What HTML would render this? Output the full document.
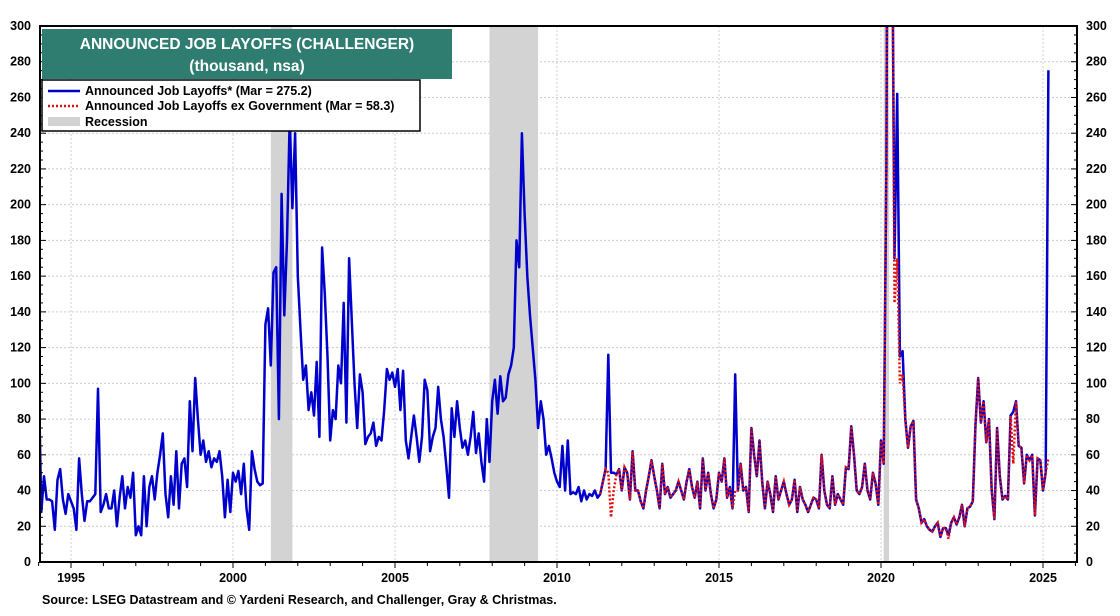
<!DOCTYPE html>
<html><head><meta charset="utf-8">
<style>
body{margin:0;background:#fff;font-family:"Liberation Sans",Arial,sans-serif;}
svg text{font-family:"Liberation Sans",Arial,sans-serif;}
</style></head>
<body>
<svg id="chart" width="1120" height="611" viewBox="0 0 1120 611">
<defs><clipPath id="plotclip"><rect x="40" y="26" width="1037" height="536"/></clipPath></defs>
<g id="grid"></g>
<g id="recessions"></g>
<g id="series" clip-path="url(#plotclip)"></g>
<rect x="40" y="26" width="1037" height="536" fill="none" stroke="#000" stroke-width="2"/>
<g id="axes"></g>
<rect x="42" y="29" width="410" height="50" fill="#2e7d70"/>
<text x="247" y="49" text-anchor="middle" fill="#fff" font-size="15.5" font-weight="bold">ANNOUNCED JOB LAYOFFS (CHALLENGER)</text>
<text x="247" y="71" text-anchor="middle" fill="#fff" font-size="15.5" font-weight="bold">(thousand, nsa)</text>
<g>
<rect x="42" y="80" width="378" height="51" fill="#fff" stroke="#000" stroke-width="1.5"/>
<line x1="48" y1="91" x2="80" y2="91" stroke="#0000cc" stroke-width="2.5"/>
<text x="85" y="95" font-size="12.5" font-weight="bold">Announced Job Layoffs* (Mar = 275.2)</text>
<line x1="48" y1="106" x2="80" y2="106" stroke="#dd1111" stroke-width="2.5" stroke-dasharray="2,2"/>
<text x="85" y="110" font-size="12.5" font-weight="bold">Announced Job Layoffs ex Government (Mar = 58.3)</text>
<rect x="48" y="117" width="32" height="9" fill="#d3d3d3"/>
<text x="85" y="126" font-size="12.5" font-weight="bold">Recession</text>
</g>
<text x="42" y="604" font-size="12.5" font-weight="bold">Source: LSEG Datastream and © Yardeni Research, and Challenger, Gray &amp; Christmas.</text>
</svg>
<script>
const startYear = 1994;
const layoffs = [
108,28,48,35,35,34,18,46,52,35,27,38,
34,30,18,58,38,23,34,34,36,38,97,28,
32,38,30,30,40,20,36,48,30,42,36,50,
15,20,15,48,20,42,48,35,50,60,72,38,
25,48,32,62,30,55,58,42,90,62,103,80,
60,68,56,62,53,58,56,62,48,25,46,28,
50,45,51,38,55,30,18,62,52,45,43,44,
133,142,110,162,165,80,206,138,180,248,198,240,
160,130,102,110,85,95,82,112,70,176,150,115,
68,85,80,110,100,145,78,170,135,100,75,105,
95,66,70,72,78,65,70,68,85,108,102,106,
98,108,85,107,68,58,70,82,70,56,70,102,
96,62,70,75,98,80,70,54,36,86,70,90,
75,64,68,60,70,84,61,72,56,45,80,56,
90,102,83,104,90,92,105,110,120,180,165,240,
195,160,138,120,102,75,90,80,60,65,58,50,
45,42,65,40,68,38,39,38,42,34,40,35,
38,37,40,36,38,45,52,116,50,50,49,52,
40,53,50,35,62,40,40,34,30,40,48,57,
48,40,30,55,38,42,36,38,40,45,40,35,
45,52,42,36,45,30,58,40,50,38,30,35,
50,45,58,36,42,30,105,40,55,40,42,28,
75,60,48,68,45,30,45,38,28,48,35,40,
45,38,32,35,46,28,42,35,32,28,32,36,
35,30,60,40,32,30,48,32,38,35,32,53,
52,76,60,40,38,42,55,40,35,50,44,32,
68,55,222,672,397,170,262,115,118,80,64,76,
79,35,30,22,24,20,18,17,20,22,14,19,
19,15,22,25,21,25,32,20,30,31,34,77,
103,78,90,67,80,40,24,75,48,35,37,35,
82,84,90,65,64,44,60,57,60,26,58,57,
40,50,275.2];
const exGovStart = 2011 + 4/12;
const exGov = [
38,45,52,50,25,40,49,52,
40,53,50,35,62,40,40,34,30,40,48,57,
48,40,30,55,38,42,36,38,40,45,40,35,
45,52,42,36,45,30,58,40,50,38,30,35,
50,45,58,36,42,30,40,40,55,40,42,28,
75,60,48,68,45,30,45,38,28,48,35,40,
45,38,32,35,46,28,42,35,32,28,32,36,
35,30,60,40,32,30,48,32,38,35,32,53,
52,76,60,40,38,42,55,40,35,50,44,32,
68,55,222,670,395,145,170,100,105,80,64,76,
79,35,30,22,24,20,18,17,20,22,14,19,
19,13,22,25,21,25,32,20,30,31,34,77,
103,78,90,67,80,40,24,75,48,35,37,35,
82,55,90,65,64,44,60,57,60,26,58,57,
40,50,58.3];
const recessionStarts = [2001+2/12, 2007+11/12, 2020+1/12];
const recessionEnds = [2001+10/12, 2009+5/12, 2020+3/12];
const yTicks = [0,20,40,60,80,100,120,140,160,180,200,220,240,260,280,300];
const xTickYears = [1995,2000,2005,2010,2015,2020,2025];

const NS = "http://www.w3.org/2000/svg";
const X = t => 38.6 + (t - 1994) * 32.4;
const Y = v => 562 - v * 536 / 300;
function mk(tag, attrs, parent){const e=document.createElementNS(NS,tag);for(const k in attrs)e.setAttribute(k,attrs[k]);parent.appendChild(e);return e;}
const grid=document.getElementById('grid'), rec=document.getElementById('recessions'), ser=document.getElementById('series'), axes=document.getElementById('axes');

yTicks.forEach(v=>{
  const g=mk('line',{x1:40,x2:1077,y1:Y(v),y2:Y(v),stroke:'#ccc','stroke-dasharray':'2,2'},grid);
  
  
  const l=mk('text',{x:31,y:Y(v)+4,'text-anchor':'end','font-size':12.5,'font-weight':'bold'},axes);
  l.textContent=v;
  
  
  const r=mk('text',{x:1086,y:Y(v)+4,'text-anchor':'start','font-size':12.5,'font-weight':'bold'},axes);
  r.textContent=v;
  
  
});
for(let v=0;v<=300;v+=5){
  const len=(v%20===0)?6:3;
  const a=mk('line',{x1:40,x2:40+len,y1:Y(v),y2:Y(v),stroke:'#000'},axes);
  
  
  const b=mk('line',{x1:1077-len,x2:1077,y1:Y(v),y2:Y(v),stroke:'#000'},axes);
  
  
}
xTickYears.forEach(yr=>{
  const g=mk('line',{x1:X(yr),x2:X(yr),y1:26,y2:562,stroke:'#ccc','stroke-dasharray':'2,2'},grid);
  
  
  const t=mk('text',{x:X(yr),y:582,'text-anchor':'middle','font-size':12.5,'font-weight':'bold'},axes);
  t.textContent=yr;
  
  
});
for(let yr=1994;yr<=2026;yr++){
  const tk=mk('line',{x1:X(yr),x2:X(yr),y1:562,y2:(yr%5===0)?568:566,stroke:'#000'},axes);
  
  
}
recessionStarts.forEach((s,i)=>{
  const r=mk('rect',{x:X(s),y:27,width:X(recessionEnds[i])-X(s),height:534,fill:'#d3d3d3'},rec);
  
  
});
function path(arr,start){return arr.map((v,i)=>(i?'L':'M')+X(start+i/12).toFixed(1)+','+Y(v).toFixed(1)).join(' ');}
const p1=mk('path',{d:path(layoffs,startYear),fill:'none',stroke:'#0000cc','stroke-width':2.5,'stroke-linejoin':'round'},ser);


const p2=mk('path',{d:path(exGov,exGovStart),fill:'none',stroke:'#dd1111','stroke-width':2.5,'stroke-dasharray':'2,2'},ser);


</script>
</body></html>
